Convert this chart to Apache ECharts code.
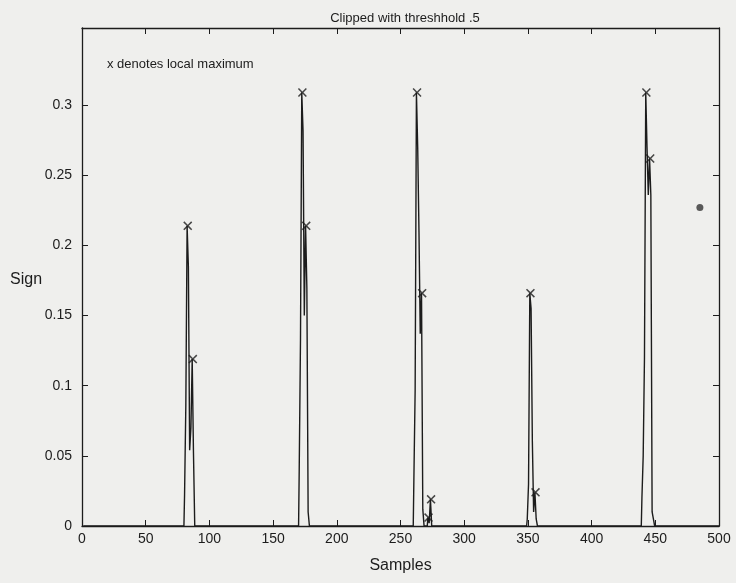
<!DOCTYPE html>
<html>
<head>
<meta charset="utf-8">
<script src="https://cdn.jsdelivr.net/npm/echarts@6/dist/echarts.min.js"></script>
<style>html,body{margin:0;padding:0;background:#efefed;}#c{width:736px;height:583px;}</style>
</head>
<body>
<div id="c"></div>
<script>
// Signal samples around each pulse: [sample, value]
const pulse1 = [[80,0],[81,0.022],[82,0.086],[83,0.214],[84,0.185],[85,0.054],[86,0.07],[87,0.119],[88,0.052],[89,0]];
const pulse2 = [[170,0],[171,0.04],[172,0.133],[173,0.309],[174,0.282],[175,0.15],[176,0.214],[177,0.17],[178,0.01],[179,0]];
const pulse3 = [[260,0],[261,0.033],[262,0.097],[263,0.309],[264,0.27],[265,0.21],[266,0.137],[267,0.166],[268,0.012],[269,0],[271,0],[272,0.006],[273,0.002],[274,0.019],[275,0]];
const pulse4 = [[349,0],[350,0.005],[351,0.03],[352,0.166],[353,0.155],[354,0.06],[355,0.01],[356,0.024],[357,0.005],[358,0]];
const pulse5 = [[439,0],[440,0.02],[441,0.05],[442,0.12],[443,0.309],[444,0.27],[445,0.236],[446,0.262],[447,0.236],[448,0.01],[449,0.005],[450,0]];
const signalStart = [[1,0]];
const signalEnd = [[500,0]];

// Local maxima marked with x
const maxX = [83, 87, 173, 176, 263, 267, 272, 274, 352, 356, 443, 446];
const maxY = [0.214, 0.119, 0.309, 0.214, 0.309, 0.166, 0.006, 0.019, 0.166, 0.024, 0.309, 0.262];

// stray dot on the page
const dotX = [485];
const dotY = [0.227];

const xTicks = [0, 50, 100, 150, 200, 250, 300, 350, 400, 450, 500];
const yTicks = [0, 0.05, 0.1, 0.15, 0.2, 0.25, 0.3];

const signal = [].concat(signalStart, pulse1, pulse2, pulse3, pulse4, pulse5, signalEnd);
const maxima = maxX.map((x, i) => [x, maxY[i]]);
const dots = dotX.map((x, i) => [x, dotY[i]]);

const font = 'Liberation Sans, Arial, sans-serif';
const ink = '#1c1c1c';
const xSym = 'path://M0,1.2L1.2,0L5,3.8L8.8,0L10,1.2L6.2,5L10,8.8L8.8,10L5,6.2L1.2,10L0,8.8L3.8,5Z';

const chart = echarts.init(document.getElementById('c'));
const baseAxis = {
  min: 0,
  axisLine: { show: true, onZero: false, lineStyle: { color: ink, width: 1.3 } },
  splitLine: { show: false }
};
chart.setOption({
  backgroundColor: '#efefed',
  animation: false,
  title: {
    text: 'Clipped with threshhold .5',
    left: 400, top: 7, textAlign: 'center',
    textStyle: { fontFamily: font, fontSize: 13, fontWeight: 'normal', color: ink }
  },
  graphic: [
    { type: 'text', left: 107, top: 58, style: { text: 'x denotes local maximum', font: '13px ' + font, fill: ink } },
    { type: 'text', left: 10, top: 272, style: { text: 'Sign', font: '16px ' + font, fill: ink } }
  ],
  grid: { left: 82, right: 17, top: 28, bottom: 57 },
  xAxis: [
    Object.assign({}, baseAxis, {
      type: 'value', max: 500, position: 'bottom',
      name: 'Samples', nameLocation: 'middle', nameGap: 32,
      nameTextStyle: { fontFamily: font, fontSize: 16, color: ink },
      axisTick: { inside: true, length: 6, lineStyle: { color: ink }, customValues: xTicks },
      axisLabel: { margin: 6, fontFamily: font, fontSize: 14, color: ink, customValues: xTicks }
    }),
    Object.assign({}, baseAxis, {
      type: 'value', max: 500, position: 'top',
      axisTick: { inside: true, length: 6, lineStyle: { color: ink }, customValues: xTicks },
      axisLabel: { show: false }
    })
  ],
  yAxis: [
    Object.assign({}, baseAxis, {
      type: 'value', max: 0.355, position: 'left',
      axisTick: { inside: true, length: 6, lineStyle: { color: ink }, customValues: yTicks },
      axisLabel: { margin: 10, fontFamily: font, fontSize: 14, color: ink, customValues: yTicks,
        formatter: v => String(Math.round(v * 100) / 100) }
    }),
    Object.assign({}, baseAxis, {
      type: 'value', max: 0.355, position: 'right',
      axisTick: { inside: true, length: 6, lineStyle: { color: ink }, customValues: yTicks },
      axisLabel: { show: false }
    })
  ],
  series: [
    {
      type: 'line', data: signal, showSymbol: false, symbol: 'none', step: 'middle',
      lineStyle: { color: ink, width: 1.4 }, xAxisIndex: 0, yAxisIndex: 0, z: 2
    },
    {
      type: 'scatter', data: maxima, symbol: xSym, symbolSize: 9,
      itemStyle: { color: ink }, xAxisIndex: 0, yAxisIndex: 0, z: 3
    },
    {
      type: 'scatter', data: dots, symbol: 'circle', symbolSize: 7,
      itemStyle: { color: '#333' }, xAxisIndex: 0, yAxisIndex: 0, z: 3
    }
  ]
});
</script>
</body>
</html>
